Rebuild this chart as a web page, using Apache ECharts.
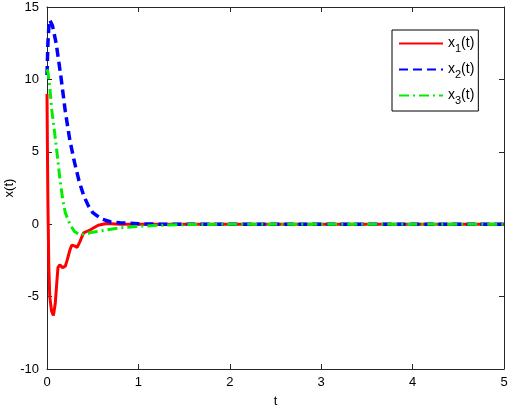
<!DOCTYPE html>
<html><head><meta charset="utf-8">
<script src="https://cdn.jsdelivr.net/npm/echarts@6/dist/echarts.min.js"></script>
<style>html,body{margin:0;padding:0;background:#fff}#c{width:510px;height:407px}</style>
</head><body><div id="c"></div>
<script>
// t values and series values
const x1T = [0, 0.005, 0.01, 0.02, 0.03, 0.05, 0.07, 0.09, 0.11, 0.12, 0.14, 0.17, 0.2, 0.22, 0.25, 0.27, 0.3, 0.33, 0.36, 0.4, 0.47, 0.56, 0.65, 0.8, 1, 5];
const x1V = [9, 5, 1.5, -3, -5, -6.0, -6.3, -5.5, -3.8, -3.0, -2.8, -3.0, -2.9, -2.5, -1.8, -1.45, -1.5, -1.6, -1.2, -0.6, -0.4, -0.07, 0.05, 0, 0, 0];
const x2T = [0, 0.01, 0.02, 0.03, 0.04, 0.06, 0.1, 0.15, 0.2, 0.25, 0.3, 0.35, 0.4, 0.45, 0.5, 0.6, 0.7, 0.8, 1, 1.2, 5];
const x2V = [10.3, 12.5, 13.6, 14.1, 14.0, 13.7, 12.5, 10.3, 7.8, 5.8, 4.3, 3.0, 2.0, 1.3, 0.8, 0.35, 0.15, 0.1, 0.03, 0, 0];
const x3T = [0, 0.01, 0.03, 0.05, 0.08, 0.11, 0.14, 0.17, 0.2, 0.25, 0.3, 0.35, 0.4, 0.5, 0.6, 0.7, 0.8, 1, 1.2, 1.5, 2, 5];
const x3V = [10.7, 10.5, 9.5, 8, 6.5, 4.9, 3.2, 1.8, 0.8, 0, -0.5, -0.7, -0.7, -0.55, -0.45, -0.35, -0.25, -0.15, -0.08, -0.03, 0, 0];
const xTicks = [0, 1, 2, 3, 4, 5];
const yTicks = [-10, -5, 0, 5, 10, 15];
const names = ['x1', 'x2', 'x3'];

const pairs = (t, v) => t.map((ti, i) => [ti, v[i]]);
const chart = echarts.init(document.getElementById('c'), null, {renderer: 'canvas'});
const font = 'Liberation Sans, Arial, sans-serif';
const tick = {show: true, inside: true, length: 5, lineStyle: {color: '#262626'}};
const axLine = {show: true, onZero: false, lineStyle: {color: '#262626', width: 1}};
chart.setOption({
  animation: false,
  backgroundColor: '#fff',
  grid: {left: 47, right: 6, top: 7, bottom: 38, outerBoundsMode: 'none', containLabel: false},
  legend: {
    orient: 'vertical', left: 392, top: 30,
    borderColor: '#000', borderWidth: 1, padding: [3, 4, 5, 6],
    itemWidth: 44, itemHeight: 14, itemGap: 5,
    data: names,
    itemStyle: {opacity: 0},
    formatter: function (n) { return '{a|x}{s|' + n.slice(1) + '}{a|(t)}'; },
    textStyle: {
      fontFamily: font, color: '#000',
      rich: {
        a: {fontSize: 14, fontFamily: font, color: '#000', verticalAlign: 'middle', lineHeight: 14},
        s: {fontSize: 11, fontFamily: font, color: '#000', verticalAlign: 'middle', padding: [10, 0, 0, 0], lineHeight: 12}
      }
    }
  },
  xAxis: [{
    type: 'value', min: 0, max: 5, interval: 1,
    name: 't', nameLocation: 'middle', nameGap: 26, nameMoveOverlap: false,
    nameTextStyle: {fontFamily: font, fontSize: 13, color: '#000'},
    axisLine: axLine, axisTick: tick, splitLine: {show: false},
    axisLabel: {fontFamily: font, fontSize: 13, color: '#000', margin: 7,
      formatter: v => xTicks.includes(v) ? String(v) : ''}
  }, {
    type: 'value', min: 0, max: 5, interval: 1, position: 'top',
    axisLine: axLine, axisTick: tick, splitLine: {show: false}, axisLabel: {show: false}
  }],
  yAxis: [{
    type: 'value', min: -10, max: 15, interval: 5,
    name: 'x(t)', nameLocation: 'middle', nameGap: 31, nameMoveOverlap: false,
    nameTextStyle: {fontFamily: font, fontSize: 13, color: '#000'},
    axisLine: axLine, axisTick: tick, splitLine: {show: false},
    axisLabel: {fontFamily: font, fontSize: 13, color: '#000', margin: 8,
      formatter: v => yTicks.includes(v) ? String(v) : ''}
  }, {
    type: 'value', min: -10, max: 15, interval: 5, position: 'right',
    axisLine: axLine, axisTick: tick, splitLine: {show: false}, axisLabel: {show: false}
  }],
  series: [
    {name: 'x1', type: 'line', symbol: 'none', data: pairs(x1T, x1V), z: 2,
     lineStyle: {color: '#ff0000', width: 3}, itemStyle: {color: '#ff0000'}},
    {name: 'x2', type: 'line', symbol: 'none', data: pairs(x2T, x2V), z: 3,
     lineStyle: {color: '#0000ff', width: 3.5, type: [9, 5]}, itemStyle: {color: '#0000ff'}},
    {name: 'x3', type: 'line', symbol: 'none', data: pairs(x3T, x3V), z: 4,
     lineStyle: {color: '#00ee00', width: 3, type: [10, 4, 2, 4]}, itemStyle: {color: '#00ee00'}}
  ]
});
</script></body></html>
